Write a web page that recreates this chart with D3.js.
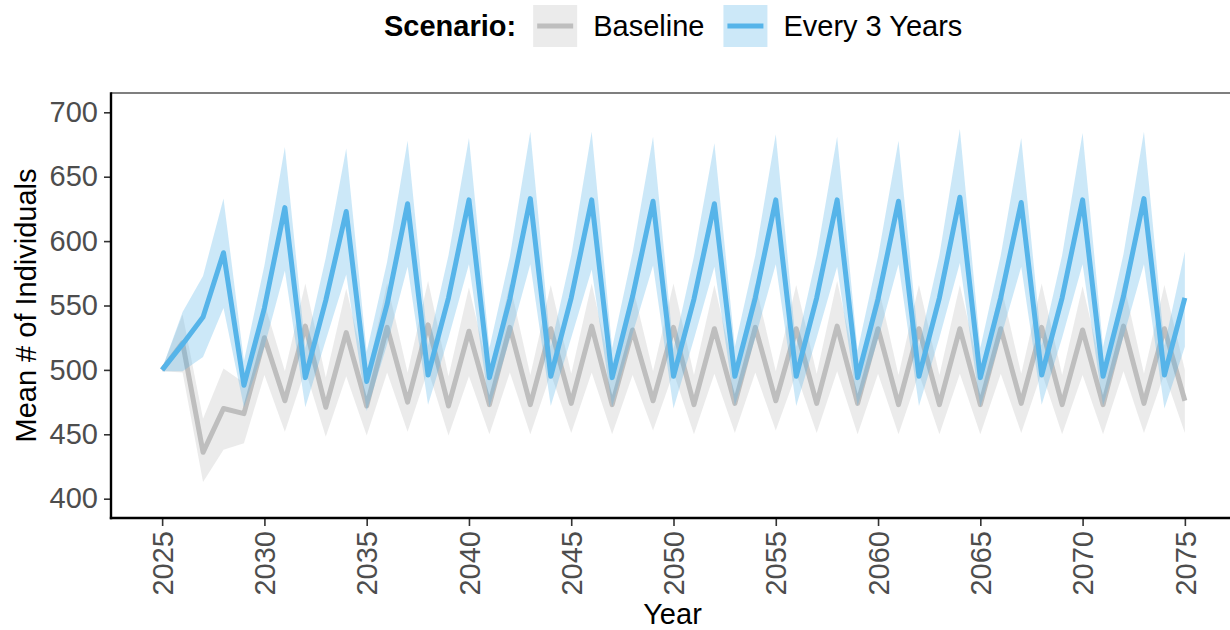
<!DOCTYPE html>
<html>
<head>
<meta charset="utf-8">
<script src="https://cdn.jsdelivr.net/npm/d3@7"></script>
<style>
  html, body { margin: 0; padding: 0; background: #fff; }
  svg { display: block; font-family: "Liberation Sans", Arial, sans-serif; }
</style>
</head>
<body>
<div id="chart"></div>
<script>
// --- data ---
const years = [2025, 2026, 2027, 2028, 2029, 2030, 2031, 2032, 2033, 2034,
  2035, 2036, 2037, 2038, 2039, 2040, 2041, 2042, 2043, 2044,
  2045, 2046, 2047, 2048, 2049, 2050, 2051, 2052, 2053, 2054,
  2055, 2056, 2057, 2058, 2059, 2060, 2061, 2062, 2063, 2064,
  2065, 2066, 2067, 2068, 2069, 2070, 2071, 2072, 2073, 2074, 2075];

const baselineMean = [500, 521, 436, 470, 466, 525, 476, 534, 471, 529,
  472, 533, 475, 535, 472, 530, 473, 533, 473, 532,
  474, 534, 473, 531, 476, 533, 473, 532, 474, 533,
  476, 532, 474, 534, 474, 532, 473, 532, 473, 532,
  473, 532, 474, 533, 473, 531, 473, 534, 474, 532, 476];
const baselineLow = [499, 498, 413, 438, 443, 496, 452, 500, 448, 495,
  449, 498, 452, 500, 449, 495, 450, 498, 450, 497,
  451, 498, 450, 496, 453, 498, 450, 497, 451, 498,
  453, 497, 451, 499, 450, 497, 450, 497, 450, 497,
  450, 497, 451, 498, 450, 496, 450, 499, 451, 497, 451];
const baselineHigh = [501, 543, 462, 501, 490, 552, 499, 567, 494, 563,
  495, 567, 498, 569, 495, 564, 496, 567, 496, 566,
  497, 567, 495, 565, 499, 567, 496, 566, 497, 567,
  499, 566, 497, 569, 496, 566, 496, 566, 496, 566,
  496, 566, 497, 567, 496, 565, 496, 568, 497, 566, 500];

const every3Mean = [500, 520, 541, 591, 488, 548, 626, 494, 554, 623,
  491, 551, 629, 496, 556, 632, 494, 555, 633, 495,
  556, 632, 494, 557, 631, 495, 555, 629, 495, 556,
  632, 495, 556, 632, 494, 555, 631, 495, 556, 634,
  494, 556, 630, 496, 556, 632, 495, 557, 633, 496, 556];
const every3Low = [499, 499, 510, 548, 471, 518, 577, 471, 523, 574,
  468, 520, 580, 473, 525, 582, 471, 524, 582, 472,
  525, 578, 471, 528, 581, 470, 524, 580, 472, 525,
  582, 472, 525, 580, 472, 524, 582, 472, 525, 583,
  471, 525, 580, 473, 525, 582, 472, 526, 582, 470, 518];
const every3High = [501, 545, 573, 633, 507, 581, 673, 517, 587, 672,
  514, 584, 678, 519, 589, 680, 517, 588, 685, 518,
  589, 685, 517, 591, 681, 516, 588, 676, 518, 589,
  683, 518, 589, 681, 515, 588, 678, 518, 589, 687,
  517, 589, 680, 519, 589, 684, 518, 590, 685, 519, 592];

const scenarioNames = ["Baseline", "Every 3 Years"];
const lineColors = ["#BEBEBE", "#56B4E9"];
const bandColors = ["#BEBEBE", "#56B4E9"];
const yTicks = [400, 450, 500, 550, 600, 650, 700];
const xTicks = [2025, 2030, 2035, 2040, 2045, 2050, 2055, 2060, 2065, 2070, 2075];

// --- layout ---
const W = 1230, H = 630;
const panel = { left: 111, right: 1236, top: 93, bottom: 518 };
const fontSize = 29;

const svg = d3.select("#chart").append("svg")
  .attr("width", W).attr("height", H)
  .attr("viewBox", [0, 0, W, H]);

svg.append("rect").attr("width", W).attr("height", H).attr("fill", "#fff");

const x = d3.scaleLinear().domain([2022.5, 2077.5]).range([panel.left, panel.right]);
const y = d3.scaleLinear().domain([385, 715]).range([panel.bottom, panel.top]);

const series = [
  { name: scenarioNames[0], mean: baselineMean, low: baselineLow, high: baselineHigh, line: lineColors[0], band: bandColors[0] },
  { name: scenarioNames[1], mean: every3Mean, low: every3Low, high: every3High, line: lineColors[1], band: bandColors[1] }
];

const area = d3.area()
  .x(d => x(d.year))
  .y0(d => y(d.low))
  .y1(d => y(d.high));

const line = d3.line()
  .x(d => x(d.year))
  .y(d => y(d.mean));

svg.append("clipPath").attr("id", "clip")
  .append("rect")
  .attr("x", panel.left).attr("y", panel.top)
  .attr("width", panel.right - panel.left).attr("height", panel.bottom - panel.top);

const plot = svg.append("g").attr("clip-path", "url(#clip)");

// ribbon then line, one scenario at a time
series.forEach(s => {
  const rows = years.map((yr, k) => ({ year: yr, mean: s.mean[k], low: s.low[k], high: s.high[k] }));
  plot.append("path")
    .datum(rows)
    .attr("d", area)
    .attr("fill", s.band)
    .attr("fill-opacity", 0.3);
  plot.append("path")
    .datum(rows)
    .attr("d", line)
    .attr("fill", "none")
    .attr("stroke", s.line)
    .attr("stroke-width", 5)
    .attr("stroke-linejoin", "round");
});

// --- axes ---
const yAxis = svg.append("g")
  .attr("transform", `translate(${panel.left},0)`)
  .call(d3.axisLeft(y).tickValues(yTicks).tickSize(7).tickPadding(6));
yAxis.select(".domain").remove();
yAxis.selectAll(".tick line").attr("stroke", "#333").attr("stroke-width", 1.6);
yAxis.selectAll(".tick text")
  .attr("fill", "#4D4D4D")
  .style("font-size", fontSize + "px")
  .style("font-family", "'Liberation Sans', Arial, sans-serif");

const xAxis = svg.append("g")
  .attr("transform", `translate(0,${panel.bottom})`)
  .call(d3.axisBottom(x).tickValues(xTicks).tickFormat(d3.format("d")).tickSize(8).tickPadding(6));
xAxis.select(".domain").remove();
xAxis.selectAll(".tick line").attr("stroke", "#333").attr("stroke-width", 1.6);
xAxis.selectAll(".tick text")
  .attr("fill", "#4D4D4D")
  .style("font-size", fontSize + "px")
  .style("font-family", "'Liberation Sans', Arial, sans-serif")
  .attr("transform", "rotate(-90)")
  .attr("text-anchor", "end")
  .attr("x", -13)
  .attr("y", 0)
  .attr("dy", "0.35em");

// panel lines
svg.append("line")
  .attr("x1", panel.left).attr("x2", panel.right)
  .attr("y1", panel.top).attr("y2", panel.top)
  .attr("stroke", "#555").attr("stroke-width", 1.5);
svg.append("line")
  .attr("x1", panel.left).attr("x2", panel.left)
  .attr("y1", panel.top - 0.7).attr("y2", panel.bottom + 1.2)
  .attr("stroke", "#000").attr("stroke-width", 2.4);
svg.append("line")
  .attr("x1", panel.left - 1.2).attr("x2", panel.right)
  .attr("y1", panel.bottom).attr("y2", panel.bottom)
  .attr("stroke", "#000").attr("stroke-width", 2.4);

// --- titles ---
svg.append("text")
  .attr("x", (panel.left + panel.right) / 2 - 1)
  .attr("y", 624)
  .attr("text-anchor", "middle")
  .style("font-size", fontSize + "px")
  .attr("fill", "#000")
  .text("Year");

svg.append("text")
  .attr("transform", `translate(36,${(panel.top + panel.bottom) / 2}) rotate(-90)`)
  .attr("text-anchor", "middle")
  .style("font-size", fontSize + "px")
  .attr("fill", "#000")
  .text("Mean # of Individuals");

// --- legend ---
const legend = svg.append("g");
const legendY = 26;
let lx = 384;
const title = legend.append("text")
  .attr("x", lx).attr("y", legendY).attr("dy", "0.36em")
  .style("font-size", fontSize + "px")
  .style("font-weight", "bold")
  .text("Scenario:");
lx += title.node().getComputedTextLength() + 17;

series.forEach(s => {
  legend.append("rect")
    .attr("x", lx).attr("y", 5)
    .attr("width", 44).attr("height", 42)
    .attr("fill", s.band).attr("fill-opacity", 0.3);
  legend.append("line")
    .attr("x1", lx + 4).attr("x2", lx + 40)
    .attr("y1", legendY).attr("y2", legendY)
    .attr("stroke", s.line).attr("stroke-width", 5);
  const t = legend.append("text")
    .attr("x", lx + 60).attr("y", legendY).attr("dy", "0.36em")
    .style("font-size", fontSize + "px")
    .text(s.name);
  lx += 60 + t.node().getComputedTextLength() + 19;
});
</script>
</body>
</html>
